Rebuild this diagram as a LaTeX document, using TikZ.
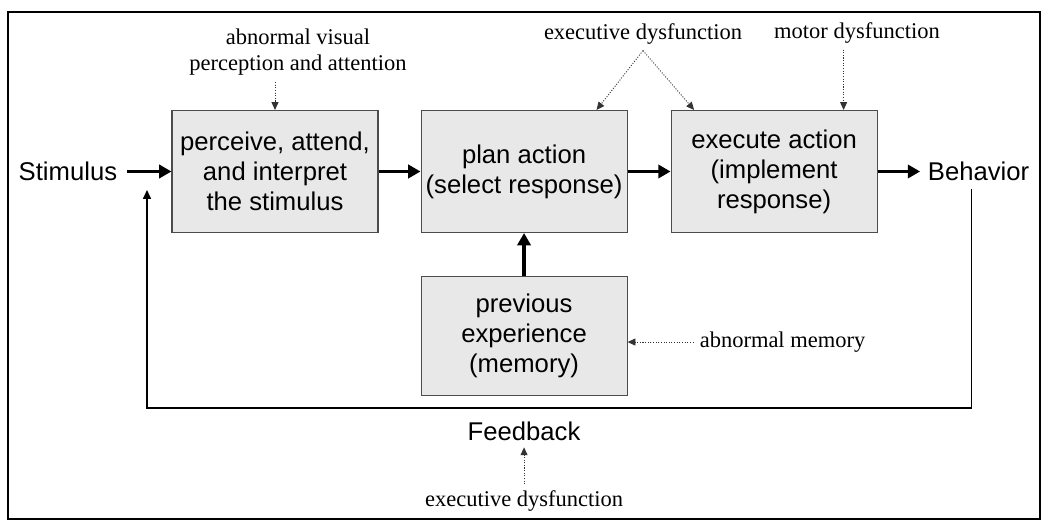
\documentclass[tikz,border=0pt]{standalone}
\usepackage{fontspec}
\setmainfont{Liberation Serif}
\setsansfont{Liberation Sans}
\usetikzlibrary{arrows.meta, positioning}

\definecolor{boxgray}{gray}{0.91}

\tikzset{
	box/.style={draw=black!70, line width=0.6pt, fill=boxgray, minimum width=4.12cm,
		minimum height=2.44cm, inner xsep=1pt, align=center, font=\sffamily\fontsize{14.6}{17}\selectfont},
	word/.style={font=\sffamily\fontsize{14.6}{17}\selectfont},
	note/.style={align=center, font=\fontsize{12.8}{15.3}\selectfont},
	flow/.style={line width=2.2pt, -{Triangle[length=7pt,width=7.5pt]}},
	back/.style={line width=0.7pt, -{Triangle[length=5pt,width=4.5pt]}},
	hint/.style={black!80, line width=0.5pt, dash pattern=on 0.6pt off 0.9pt, -{Triangle[length=4.5pt,width=4pt]}}
}

\begin{document}
\begin{tikzpicture}
	\useasboundingbox (0,0) rectangle (21,10.56);
	\draw[line width=0.85pt] (0.16,0.18) rectangle (20.8,10.32);
	
	\node[box]                         (perceive) at (5.5,7.13) {perceive, attend,\\and interpret\\the stimulus};
	\node[box, right=0.84cm of perceive] (plan)    {plan action\\(select response)};
	\node[box, right=0.86cm of plan]     (execute) {execute action\\(implement\\response)};
	\node[box, below=0.86cm of plan, minimum height=2.38cm] (memory) {previous\\experience\\(memory)};
	
	\node[word, inner sep=0.2cm, left=0.88cm of perceive]  (stimulus) {Stimulus};
	\node[word, inner sep=0.15cm, right=0.85cm of execute] (behavior) {Behavior};
	\node[word, below=0.4cm of memory]  (feedback) {Feedback};
	
	% dysfunction notes
	\node[note, anchor=south] (visual) at (5.96,8.92) {abnormal visual\\perception and attention};
	\node[note] (execdys) at (12.86,9.88) {executive dysfunction};
	\node[note] (motordys) at (17.14,9.9) {motor dysfunction};
	\node[note, right=1.32cm of memory, yshift=-0.12cm] (abnmem) {abnormal memory};
	\node[note, below=0.74cm of feedback] (fbdys) {executive dysfunction};
	
	\draw[flow]
	(stimulus) edge (perceive)
	(perceive) edge (plan)
	(plan)     edge (execute)
	(execute)  edge (behavior)
	(memory)   edge (plan);
	
	% feedback loop
	\coordinate (fbtip) at (2.94,6.76);
	\coordinate (fbline) at (0,2.4);
	\draw[back] ([xshift=-0.15cm]behavior.south) |- (fbtip |- fbline) -- (fbtip);
	
	\coordinate (motorin) at ([xshift=1.39cm]execute.north);
	\draw[hint] (visual.south -| perceive.north) -- (perceive.north);
	\draw[hint] (execdys.south) -- ([xshift=1.45cm]plan.north);
	\draw[hint] (execdys.south) -- ([xshift=-1.6cm]execute.north);
	\draw[hint] (motordys.south -| motorin) -- (motorin);
	\draw[hint] (abnmem.west) -- (abnmem.west -| memory.east);
	\draw[hint] (fbdys.north) -- (feedback.south);
\end{tikzpicture}
\end{document}
